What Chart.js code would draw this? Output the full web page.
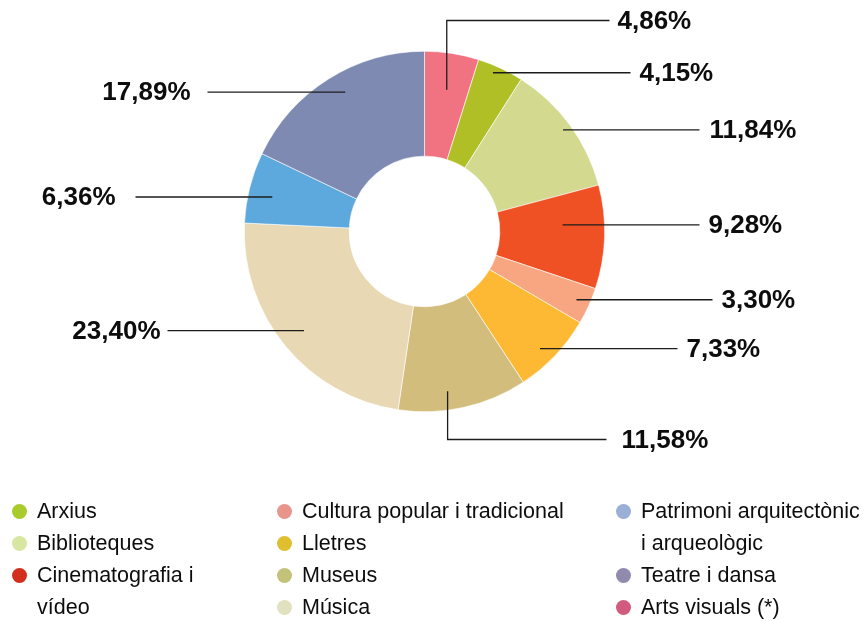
<!DOCTYPE html>
<html lang="ca">
<head>
<meta charset="utf-8">
<title>Distribució per àmbits</title>
<script src="https://cdn.jsdelivr.net/npm/chart.js@4/dist/chart.umd.min.js"></script>
<style>
  html, body { margin: 0; padding: 0; background: #fff; }
  #wrap { position: relative; width: 864px; height: 621px; overflow: hidden; }
  #chart-box { position: absolute; left: 0; top: 0; width: 864px; height: 621px; }
  #legend { position: absolute; left: 0; top: 495px; width: 864px; height: 128px;
    font-family: "Liberation Sans", Arial, Helvetica, sans-serif; font-size: 21.5px; color: #0d0d0d; }
  .col { position: absolute; top: 0; }
  .item { position: relative; line-height: 32px; }
  .dot { position: absolute; left: 0; top: 8.5px; width: 15px; height: 15px; border-radius: 50%; }
  .txt { display: block; margin-left: 25px; }
</style>
</head>
<body>
<div id="wrap">
  <div id="chart-box"><canvas id="donut"></canvas></div>
  <div id="legend"></div>
</div>
<script>
  // Slices in drawing order (clockwise from 12 o'clock).
  var categories = [
    'Arts visuals (*)',
    'Arxius',
    'Biblioteques',
    'Cinematografia i vídeo',
    'Cultura popular i tradicional',
    'Lletres',
    'Museus',
    'Música',
    'Patrimoni arquitectònic i arqueològic',
    'Teatre i dansa'
  ];
  var values = [4.86, 4.15, 11.84, 9.28, 3.30, 7.33, 11.58, 23.40, 6.36, 17.89];

  var sliceColors = ['#F17281', '#B0BF26', '#D3DA90', '#F05124', '#F8A682',
    '#FDB934', '#D3BD7C', '#E8D8B3', '#5DA9DD', '#7E8AB2'];
  var legendColors = ['#D15B7E', '#A9CB2D', '#D7E7A1', '#D22E1B', '#E8958B',
    '#DFBF2F', '#C3C27A', '#E2E1BF', '#9AAFD5', '#918AAE'];

  // Legend columns, as category names.
  var legendColumns = [
    ['Arxius', 'Biblioteques', 'Cinematografia i vídeo'],
    ['Cultura popular i tradicional', 'Lletres', 'Museus', 'Música'],
    ['Patrimoni arquitectònic i arqueològic', 'Teatre i dansa', 'Arts visuals (*)']
  ];

  // Leader line layout per slice: t = position along the slice, rf = position across the ring,
  // lineDx/textDx = offsets from centre, elbowDy = optional vertical leg.
  var leaderLayout = [
    { t: 0.51, rf: 0.65, lineDx: 185, textDx: 193, elbowDy: -211 },
    { t: 0.39, rf: 0.93, lineDx: 206, textDx: 215 },
    { t: 0.50, rf: 0.92, lineDx: 275, textDx: 285 },
    { t: 0.365, rf: 0.60, lineDx: 275, textDx: 284 },
    { t: 0.48, rf: 0.87, lineDx: 288, textDx: 297 },
    { t: 0.57, rf: 0.85, lineDx: 253, textDx: 262 },
    { t: 0.60, rf: 0.82, lineDx: 182, textDx: 197, elbowDy: 208 },
    { t: 0.50, rf: 0.77, lineDx: -257, textDx: -264 },
    { t: 0.44, rf: 0.77, lineDx: -289, textDx: -309 },
    { t: 0.54, rf: 0.81, lineDx: -217, textDx: -234 }
  ];

  function fmt(v) {
    return v.toFixed(2).replace('.', ',') + '%';
  }

  /**
   * Draws the percentage labels with their leader lines.
   */
  var leaderPlugin = {
    id: 'leaders',
    afterDatasetsDraw: function (chart) {
      var ctx = chart.ctx;
      var arcs = chart.getDatasetMeta(0).data;
      ctx.save();
      ctx.strokeStyle = '#1c1c1c';
      ctx.lineWidth = 1.3;
      ctx.fillStyle = '#0d0d0d';
      ctx.font = 'bold 26px "Liberation Sans", Arial, Helvetica, sans-serif';
      ctx.textBaseline = 'middle';
      arcs.forEach(function (arc, i) {
        var p = arc.getProps(['x', 'y', 'startAngle', 'endAngle', 'innerRadius', 'outerRadius'], true);
        var lay = leaderLayout[i];
        var ang = p.startAngle + (p.endAngle - p.startAngle) * lay.t;
        var r = p.innerRadius + (p.outerRadius - p.innerRadius) * lay.rf;
        var ax = p.x + Math.cos(ang) * r;
        var ay = p.y + Math.sin(ang) * r;
        var ly = ay;
        ctx.beginPath();
        ctx.moveTo(ax, ay);
        if (lay.elbowDy) {
          ly = p.y + lay.elbowDy;
          ctx.lineTo(ax, ly);
        }
        ctx.lineTo(p.x + lay.lineDx, ly);
        ctx.stroke();
        ctx.textAlign = lay.textDx < 0 ? 'right' : 'left';
        ctx.fillText(fmt(values[i]), p.x + lay.textDx, ly + 1);
      });
      ctx.restore();
    }
  };

  new Chart(document.getElementById('donut'), {
    type: 'doughnut',
    data: {
      labels: categories,
      datasets: [{
        data: values,
        backgroundColor: sliceColors,
        borderColor: '#ffffff',
        borderWidth: 0.6
      }]
    },
    options: {
      responsive: true,
      maintainAspectRatio: false,
      animation: false,
      cutout: '41.8%',
      layout: {
        padding: { left: 244, right: 259, top: 51, bottom: 209 }
      },
      plugins: {
        legend: { display: false },
        tooltip: { enabled: false }
      }
    },
    plugins: [leaderPlugin]
  });

  // HTML legend in three columns.
  var colLeft = [12, 277, 616];
  var colWidth = [215, 300, 252];
  var legend = document.getElementById('legend');
  legendColumns.forEach(function (names, c) {
    var col = document.createElement('div');
    col.className = 'col';
    col.style.left = colLeft[c] + 'px';
    col.style.width = colWidth[c] + 'px';
    names.forEach(function (name) {
      var idx = categories.indexOf(name);
      var item = document.createElement('div');
      item.className = 'item';
      var dot = document.createElement('span');
      dot.className = 'dot';
      dot.style.background = legendColors[idx];
      var txt = document.createElement('span');
      txt.className = 'txt';
      txt.textContent = name;
      item.appendChild(dot);
      item.appendChild(txt);
      col.appendChild(item);
    });
    legend.appendChild(col);
  });
</script>
</body>
</html>
